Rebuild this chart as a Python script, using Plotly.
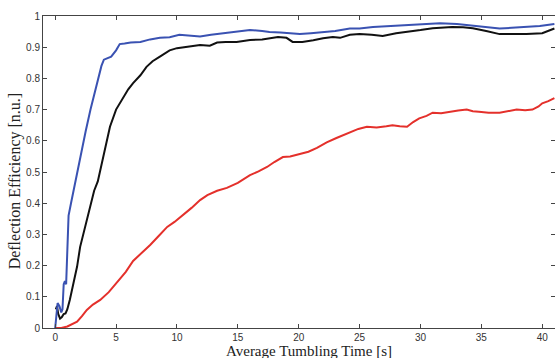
import plotly.graph_objects as go

blue_x = [0, 0.1, 0.2, 0.35, 0.5, 0.6, 0.7, 0.8, 0.9, 1.0, 1.1, 1.3, 1.5, 1.7, 1.9, 2.2, 2.5, 2.9, 3.2,
          3.5, 3.8, 4.0, 4.3, 4.6, 5.0, 5.3, 5.7, 6.2, 7.0, 7.8, 8.6, 9.4, 10.2, 11.0, 11.9, 12.8, 13.8,
          14.8, 16.0, 17.0, 17.6, 18.5, 19.3, 20.1, 21.0, 22.0, 23.0, 24.2, 25.0, 26.1, 27.5, 28.9, 30.2,
          31.6, 33.0, 34.0, 34.8, 35.6, 36.5, 37.5, 38.7, 39.8, 41.0]
blue_y = [0, 0.05, 0.08, 0.07, 0.05, 0.06, 0.14, 0.15, 0.14, 0.25, 0.36, 0.40, 0.44, 0.48, 0.52, 0.58,
          0.63, 0.70, 0.75, 0.80, 0.84, 0.86, 0.865, 0.87, 0.89, 0.91, 0.912, 0.915, 0.917, 0.925, 0.93,
          0.932, 0.94, 0.937, 0.934, 0.94, 0.945, 0.95, 0.955, 0.952, 0.949, 0.947, 0.944, 0.942, 0.945,
          0.949, 0.952, 0.96, 0.96, 0.965, 0.968, 0.971, 0.974, 0.977, 0.974, 0.97, 0.965, 0.962, 0.96,
          0.962, 0.965, 0.968, 0.974]

black_x = [0.05, 0.15, 0.25, 0.4, 0.55, 0.7, 0.85, 1.0, 1.2, 1.5, 1.8, 2.05, 2.3, 2.6, 2.87, 3.2, 3.5,
           3.7, 4.0, 4.5, 5.0, 5.6, 6.0, 6.4, 7.0, 7.5, 8.0, 8.6, 9.4, 10.0, 10.5, 11.2, 11.9, 12.7, 13.3,
           14.0, 14.9, 16.0, 17.0, 18.3, 19.0, 19.5, 20.3, 21.2, 22.0, 22.8, 23.4, 24.2, 25.0, 26.0, 26.9,
           28.0, 28.9, 30.0, 31.0, 32.6, 33.5, 34.3, 35.4, 36.5, 37.5, 38.7, 40.0, 40.5, 41.0]
black_y = [0.06, 0.07, 0.045, 0.03, 0.035, 0.045, 0.047, 0.06, 0.09, 0.14, 0.197, 0.26, 0.30, 0.34, 0.39,
           0.44, 0.47, 0.506, 0.56, 0.645, 0.70, 0.74, 0.765, 0.785, 0.81, 0.837, 0.855, 0.87, 0.89, 0.897,
           0.90, 0.902, 0.907, 0.905, 0.915, 0.917, 0.917, 0.923, 0.925, 0.933, 0.93, 0.917, 0.917, 0.922,
           0.929, 0.933, 0.93, 0.94, 0.942, 0.94, 0.936, 0.945, 0.949, 0.955, 0.961, 0.965, 0.964, 0.961,
           0.952, 0.942, 0.942, 0.942, 0.945, 0.952, 0.96]

red_x = [0, 0.5, 1.0, 1.4, 1.8, 2.2, 2.6, 3.1, 3.7, 4.4, 5.1, 5.8, 6.4, 7.1, 7.8, 8.5, 9.2, 9.8, 10.5,
         11.2, 11.9, 12.5, 13.3, 14.1, 15.0, 16.0, 16.7, 17.4, 18.0, 18.7, 19.3, 20.3, 20.8, 21.5, 22.3,
         23.1, 23.7, 24.2, 24.9, 25.6, 26.4, 27.2, 27.7, 28.3, 28.9, 29.4, 29.9, 30.5, 31.0, 31.7, 32.4,
         33.1, 33.8, 34.3, 34.8, 35.6, 36.5, 37.2, 37.9, 38.6, 39.2, 39.7, 40.0, 40.5, 41.0]
red_y = [0, 0.0, 0.005, 0.012, 0.02, 0.038, 0.058, 0.075, 0.09, 0.115, 0.148, 0.18, 0.215, 0.24, 0.266,
         0.295, 0.324, 0.34, 0.362, 0.385, 0.41, 0.426, 0.44, 0.449, 0.465, 0.49, 0.502, 0.516, 0.532,
         0.548, 0.55, 0.56, 0.565, 0.577, 0.595, 0.609, 0.618, 0.628, 0.638, 0.645, 0.643, 0.647, 0.65,
         0.647, 0.645, 0.66, 0.672, 0.68, 0.69, 0.688, 0.693, 0.697, 0.70, 0.695, 0.693, 0.69, 0.69,
         0.695, 0.70, 0.698, 0.70, 0.71, 0.72, 0.727, 0.737]

x_ticks = [0, 5, 10, 15, 20, 25, 30, 35, 40]
y_ticks = [0, 0.1, 0.2, 0.3, 0.4, 0.5, 0.6, 0.7, 0.8, 0.9, 1]
y_tick_text = ["0", "0.1", "0.2", "0.3", "0.4", "0.5", "0.6", "0.7", "0.8", "0.9", "1"]

x_title = "Average Tumbling Time [s]"
y_title = "Deflection Efficiency [n.u.]"

fig = go.Figure()
fig.add_trace(go.Scatter(x=red_x, y=red_y, mode="lines", line=dict(color="#e4302b", width=2)))
fig.add_trace(go.Scatter(x=black_x, y=black_y, mode="lines", line=dict(color="#111111", width=2)))
fig.add_trace(go.Scatter(x=blue_x, y=blue_y, mode="lines", line=dict(color="#3a52b2", width=2)))

axis_common = dict(
    showgrid=False, zeroline=False, showline=True, linecolor="#444", linewidth=1,
    mirror="ticks", ticks="inside", ticklen=4, tickcolor="#444",
    tickfont=dict(family="Liberation Sans, Arial, sans-serif", size=10, color="#333"),
)

fig.update_layout(
    width=555, height=358,
    margin=dict(l=43, r=0, t=16, b=30),
    paper_bgcolor="white", plot_bgcolor="white",
    showlegend=False,
    xaxis=dict(range=[-1, 41.05], tickvals=x_ticks, ticktext=[str(v) for v in x_ticks], **axis_common),
    yaxis=dict(range=[0, 1], tickvals=y_ticks, ticktext=y_tick_text, **axis_common),
    annotations=[
        dict(text=x_title, xref="paper", yref="paper", x=0.52, y=0, yshift=-23,
             showarrow=False, xanchor="center", yanchor="middle",
             font=dict(family="Liberation Serif, Times New Roman, serif", size=15, color="#222")),
        dict(text=y_title, xref="paper", yref="paper", x=0, xshift=-28, y=0.47,
             showarrow=False, textangle=-90, xanchor="center", yanchor="middle",
             font=dict(family="Liberation Serif, Times New Roman, serif", size=16, color="#222")),
    ],
)

fig.write_html("out.html")
